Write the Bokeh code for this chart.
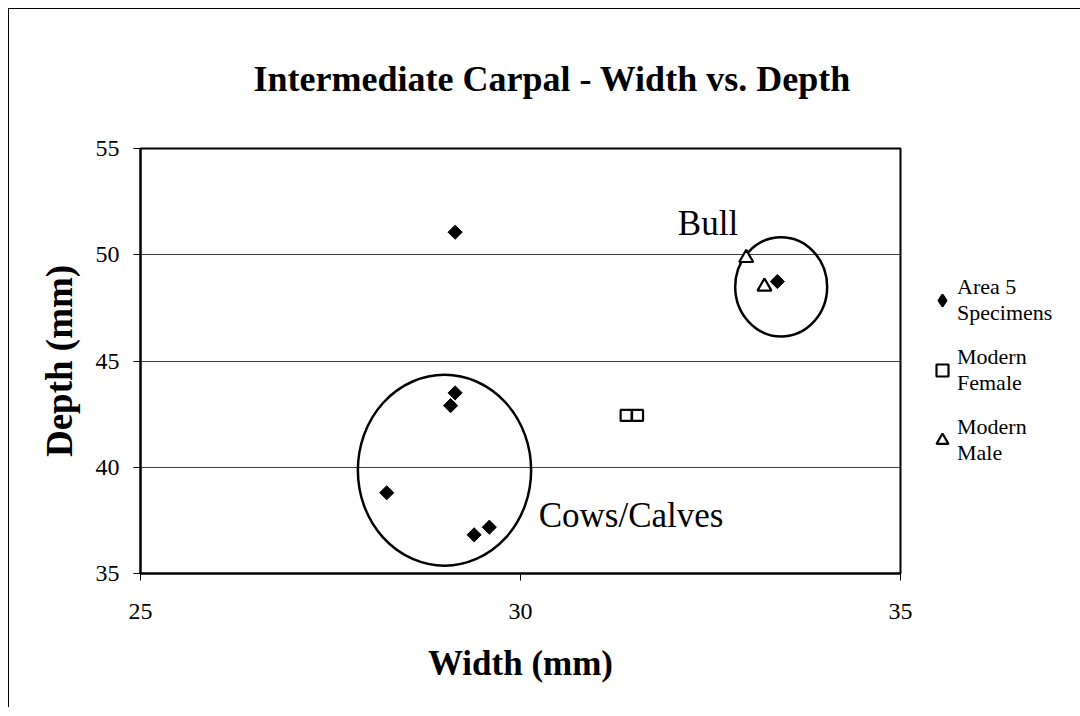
from bokeh.plotting import figure
from bokeh.models import Range1d, FixedTicker, Legend, LegendItem
from bokeh.core.properties import value
from bokeh.embed import file_html
from bokeh.resources import INLINE

# ---- data ----
area5_width = [29.14, 29.14, 29.08, 28.24, 29.39, 29.59, 33.38]
area5_depth = [51.06, 43.5, 42.9, 38.8, 36.82, 37.18, 48.74]

female_width = [31.39, 31.54]
female_depth = [42.44, 42.44]

male_width = [32.97, 33.21]
male_depth = [49.85, 48.5]

group_x = [29.0, 33.43]
group_y = [39.86, 48.49]
group_w = [2.28, 1.21]
group_h = [8.98, 4.67]

note_text = ["Cows/Calves", "Bull"]
note_x = [30.24, 32.07]
note_y = [37.73, 51.47]

x_ticks = [25, 30, 35]
y_ticks = [35, 40, 45, 50, 55]

legend_labels = ["Area 5\nSpecimens", "Modern\nFemale", "Modern\nMale"]
chart_title = "Intermediate Carpal - Width vs. Depth"

SERIF = "Liberation Serif"

p = figure(frame_width=760, frame_height=425, output_backend="svg", toolbar_location=None,
           x_range=Range1d(25, 35), y_range=Range1d(35, 55),
           min_border_left=131, min_border_right=171,
           min_border_top=139, min_border_bottom=134,
           title=chart_title)

p.styles = {"margin-left": "8px", "margin-top": "8px",
            "border-left": "1px solid black", "border-top": "1px solid black"}

p.title.text_font = SERIF
p.title.text_font_size = "36px"
p.title.text_font_style = "bold"
p.title.align = "left"
p.title.vertical_align = "top"
p.title.offset = 113
p.title.standoff = 95
p.title.text_color = "black"

p.outline_line_color = "black"
p.outline_line_width = 2
p.outline_line_alpha = 1

p.xgrid.visible = False
p.ygrid.grid_line_color = "black"
p.ygrid.grid_line_width = 1
p.ygrid.grid_line_alpha = 0.75

for ax in (p.xaxis[0], p.yaxis[0]):
    ax.axis_line_color = "black"
    ax.axis_line_width = 2
    ax.major_tick_line_color = "black"
    ax.major_tick_line_width = 1
    ax.major_tick_in = 0
    ax.major_tick_out = 7
    ax.minor_tick_line_color = None
    ax.major_label_text_font = SERIF
    ax.major_label_text_font_size = "24px"
    ax.major_label_text_color = "black"
    ax.axis_label_text_font = SERIF
    ax.axis_label_text_font_style = "bold"
    ax.axis_label_text_color = "black"

p.xaxis.axis_label_text_font_size = "35px"
p.yaxis.axis_label_text_font_size = "37px"
p.xaxis.ticker = FixedTicker(ticks=x_ticks)
p.yaxis.ticker = FixedTicker(ticks=y_ticks)
p.xaxis.axis_label = "Width (mm)"
p.yaxis.axis_label = "Depth (mm)"
p.xaxis.major_label_standoff = 23
p.yaxis.major_label_standoff = 14
p.xaxis.axis_label_standoff = 22
p.yaxis.axis_label_standoff = 13

# group outlines
p.ellipse(x=group_x, y=group_y, width=group_w, height=group_h,
          fill_color=None, line_color="black", line_width=2.5)

# legend proxy for the diamond series: drawn beneath (and hidden by) the plotted diamonds
r_area_leg = p.scatter(area5_width, area5_depth, marker="diamond", size=9,
                       fill_color="black", line_color="black", line_width=2)
r_area = p.scatter(area5_width, area5_depth, marker="square", angle=0.785398,
                   size=10, fill_color="black", line_color="black")
r_fem = p.scatter(female_width, female_depth, marker="square", size=11,
                  fill_color="white", line_color="black", line_width=2.2)
r_male = p.scatter(male_width, male_depth, marker="triangle", size=14,
                   fill_color="white", line_color="black", line_width=2.2)

p.text(x=note_x, y=note_y, text=note_text, text_font=value(SERIF),
       text_font_size="35px", text_color="black", text_baseline="alphabetic")

legend = Legend(items=[
    LegendItem(label=legend_labels[0], renderers=[r_area_leg]),
    LegendItem(label=legend_labels[1], renderers=[r_fem]),
    LegendItem(label=legend_labels[2], renderers=[r_male]),
], location=(27, 107))
legend.label_text_font = SERIF
legend.label_text_font_size = "22px"
legend.label_text_color = "black"
legend.label_standoff = 0
legend.glyph_width = 30
legend.glyph_height = 30
legend.spacing = 18
legend.padding = 4
legend.margin = 0
legend.border_line_color = None
legend.background_fill_color = None
p.add_layout(legend, "right")

open("out.html", "w").write(file_html(p, INLINE))
